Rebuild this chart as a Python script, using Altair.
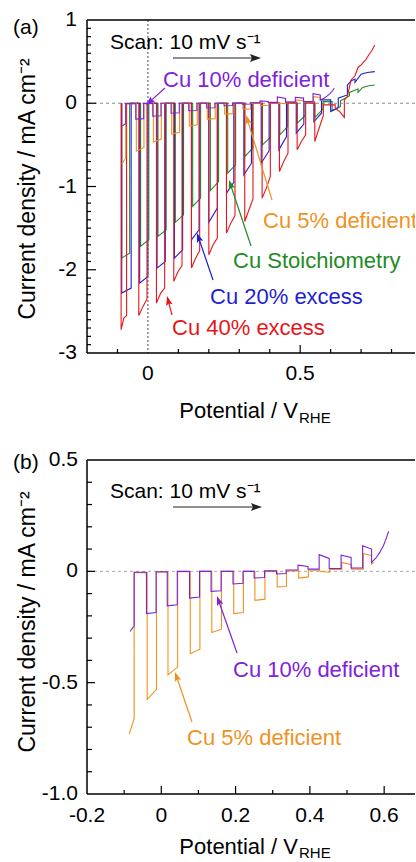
import math
import altair as alt
import pandas as pd

# ------------------------------------------------------------------ data
# Cu 10% deficient (purple) - chopped-light pulses (potential V_RHE, current mA cm-2)
PUR_ON = [-0.084, -0.040, 0.016, 0.076, 0.134, 0.193, 0.250, 0.310, 0.368, 0.425, 0.484, 0.542]
PUR_OFF = [-0.073, -0.014, 0.043, 0.103, 0.161, 0.220, 0.278, 0.336, 0.395, 0.452, 0.511, 0.566]
PUR_JON = [-0.27, -0.19, -0.155, -0.12, -0.09, -0.057, -0.03, -0.012, 0.028, 0.075, 0.072, 0.115]
PUR_JOFF = [-0.245, -0.185, -0.15, -0.115, -0.087, -0.054, -0.028, -0.010, 0.022, 0.058, 0.062, 0.10]
PUR_DARK = [-0.004, -0.002, 0.0, 0.0, 0.0, 0.0, 0.002, 0.006, 0.010, 0.013, 0.015]
PUR_TAIL_V = [0.566, 0.578, 0.588, 0.598, 0.606, 0.612]
PUR_TAIL_J = [0.04, 0.06, 0.085, 0.115, 0.15, 0.18]

# Cu 5% deficient (orange)
ORA_ON = [-0.086, -0.038, 0.018, 0.078, 0.136, 0.195, 0.252, 0.312, 0.370, 0.427, 0.486, 0.544]
ORA_OFF = [-0.073, -0.013, 0.044, 0.104, 0.162, 0.221, 0.279, 0.337, 0.396, 0.453, 0.512, 0.566]
ORA_JON = [-0.73, -0.575, -0.465, -0.37, -0.275, -0.19, -0.13, -0.07, -0.03, 0.0, 0.04, 0.08]
ORA_JOFF = [-0.66, -0.53, -0.43, -0.35, -0.26, -0.185, -0.125, -0.068, -0.025, -0.004, 0.03, 0.07]
ORA_DARK = [-0.006, -0.004, -0.002, 0.0, 0.0, 0.0, 0.0, 0.002, 0.005, 0.008, 0.010]
ORA_TAIL_V = [0.566, 0.572]
ORA_TAIL_J = [0.032, 0.04]

# Cu Stoichiometry (green)
GRN_ON = [-0.086, -0.024, 0.033, 0.090, 0.147, 0.205, 0.262, 0.318, 0.376, 0.433, 0.490, 0.548, 0.605]
GRN_OFF = [-0.060, 0.003, 0.060, 0.117, 0.173, 0.232, 0.288, 0.344, 0.402, 0.459, 0.516, 0.575, 0.632]
GRN_JON = [-1.86, -1.72, -1.60, -1.43, -1.24, -1.05, -0.84, -0.64, -0.50, -0.38, -0.24, -0.17, -0.09]
GRN_JOFF = [-1.80, -1.64, -1.52, -1.34, -1.14, -0.94, -0.74, -0.54, -0.41, -0.28, -0.15, -0.07, -0.04]
GRN_DARK = [0.0, 0.0, 0.0, 0.0, 0.0, 0.0, 0.0, 0.0, 0.0, 0.004, 0.01, 0.02]
GRN_TAIL_V = [0.632, 0.648, 0.662, 0.662, 0.675, 0.690, 0.690, 0.705, 0.725, 0.745]
GRN_TAIL_J = [0.03, 0.06, 0.09, 0.13, 0.15, 0.17, 0.13, 0.19, 0.21, 0.22]

# Cu 20% excess (blue)
BLU_ON = [-0.086, -0.027, 0.030, 0.087, 0.143, 0.200, 0.258, 0.315, 0.372, 0.430, 0.487, 0.545, 0.600]
BLU_OFF = [-0.055, 0.000, 0.057, 0.114, 0.168, 0.228, 0.282, 0.340, 0.398, 0.455, 0.512, 0.570, 0.625]
BLU_JON = [-2.28, -2.16, -1.98, -1.86, -1.64, -1.43, -1.08, -0.86, -0.72, -0.56, -0.36, -0.22, -0.10]
BLU_JOFF = [-2.22, -2.08, -1.90, -1.76, -1.52, -1.26, -0.95, -0.72, -0.57, -0.40, -0.25, -0.12, -0.05]
BLU_DARK = [0.0, 0.0, 0.0, 0.0, 0.0, 0.0, 0.0, 0.0, 0.004, 0.01, 0.02, 0.04]
BLU_TAIL_V = [0.625, 0.640, 0.655, 0.655, 0.668, 0.680, 0.680, 0.700, 0.720, 0.745]
BLU_TAIL_J = [0.06, 0.08, 0.10, 0.22, 0.27, 0.29, 0.25, 0.35, 0.37, 0.38]

# Cu 40% excess (red)
RED_ON = [-0.088, -0.030, 0.028, 0.085, 0.143, 0.200, 0.258, 0.318, 0.375, 0.432, 0.490, 0.548, 0.615]
RED_MID_V = [-0.079, -0.016, 0.042, 0.099, 0.157, 0.214, 0.272, 0.332, 0.389, 0.446, 0.504, 0.562, 0.630]
RED_OFF = [-0.070, -0.003, 0.055, 0.112, 0.170, 0.228, 0.286, 0.345, 0.402, 0.460, 0.518, 0.576, 0.645]
RED_JON = [-2.72, -2.55, -2.40, -2.14, -1.98, -1.82, -1.56, -1.42, -1.14, -0.82, -0.56, -0.46, -0.06]
RED_JMID = [-2.58, -2.44, -2.28, -2.02, -1.86, -1.70, -1.44, -1.28, -1.02, -0.70, -0.46, -0.30, -0.10]
RED_JOFF = [-2.55, -2.35, -2.22, -1.95, -1.77, -1.62, -1.35, -1.15, -0.88, -0.60, -0.38, -0.15, -0.17]
RED_DARK = [0.0, 0.0, 0.0, 0.0, 0.0, 0.0, 0.0, 0.0, 0.0, 0.0, 0.0, -0.02]
RED_TAIL_V = [0.645, 0.655, 0.662, 0.667, 0.680, 0.690, 0.700, 0.715, 0.725, 0.735, 0.745]
RED_TAIL_J = [0.04, 0.08, 0.20, 0.28, 0.33, 0.43, 0.46, 0.52, 0.58, 0.63, 0.70]

# axis tick labels
XLAB_A = [0, 0.5]
XLAB_A_TXT = ["0", "0.5"]
YLAB_A = [-3, -2, -1, 0, 1]
YLAB_A_TXT = ["-3", "-2", "-1", "0", "1"]
XLAB_B = [-0.2, 0, 0.2, 0.4, 0.6]
XLAB_B_TXT = ["-0.2", "0", "0.2", "0.4", "0.6"]
YLAB_B = [-1.0, -0.5, 0, 0.5]
YLAB_B_TXT = ["-1.0", "-0.5", "0", "0.5"]

# ------------------------------------------------------------------ style
FONT = "Liberation Sans"
C_PUR = "#7E22DC"
C_ORA = "#EF921F"
C_GRN = "#248A24"
C_BLU = "#1E1ED2"
C_RED = "#E5161B"
W = 328
HA = 333
HB = 334
ONE = pd.DataFrame({"z": [0]})


def build(on, off, jon, joff, dark, tail_v, tail_j, lead, mid_v=None, mid_j=None):
    rows = []

    def add(v, j):
        rows.append({"V": v, "j": j, "k": len(rows)})

    if lead:
        add(on[0], 0.0)
    for i in range(len(on)):
        add(on[i], jon[i])
        if mid_v is not None:
            add(mid_v[i], mid_j[i])
        add(off[i], joff[i])
        if i < len(on) - 1:
            add(off[i], dark[i])
            add(on[i + 1], dark[i])
    for v, j in zip(tail_v, tail_j):
        add(v, j)
    return pd.DataFrame(rows)


df_pur = build(PUR_ON, PUR_OFF, PUR_JON, PUR_JOFF, PUR_DARK, PUR_TAIL_V, PUR_TAIL_J, False)
df_ora = build(ORA_ON, ORA_OFF, ORA_JON, ORA_JOFF, ORA_DARK, ORA_TAIL_V, ORA_TAIL_J, False)
df_grn = build(GRN_ON, GRN_OFF, GRN_JON, GRN_JOFF, GRN_DARK, GRN_TAIL_V, GRN_TAIL_J, True)
df_blu = build(BLU_ON, BLU_OFF, BLU_JON, BLU_JOFF, BLU_DARK, BLU_TAIL_V, BLU_TAIL_J, True)
df_red = build(RED_ON, RED_OFF, RED_JON, RED_JOFF, RED_DARK, RED_TAIL_V, RED_TAIL_J, True,
               RED_MID_V, RED_JMID)

xsA = alt.Scale(domain=[-0.2, 0.877], nice=False, zero=False)
ysA = alt.Scale(domain=[-3, 1], nice=False, zero=False)
xsB = alt.Scale(domain=[-0.2, 0.683], nice=False, zero=False)
ysB = alt.Scale(domain=[-1, 0.5], nice=False, zero=False)


def curve(df, color, xs, ys):
    return alt.Chart(df).mark_line(color=color, strokeWidth=1.1).encode(
        x=alt.X("V:Q", scale=xs, axis=None),
        y=alt.Y("j:Q", scale=ys, axis=None),
        order=alt.Order("k:Q"),
    )


def zero_line(ys, color):
    return alt.Chart(pd.DataFrame({"j": [0.0]})).mark_rule(
        color=color, strokeDash=[3, 3], strokeWidth=1).encode(
        y=alt.Y("j:Q", scale=ys, axis=None))


def xticks(vals, xs, H, L):
    return alt.Chart(pd.DataFrame({"V": vals})).mark_rule(color="black", strokeWidth=1.2).encode(
        x=alt.X("V:Q", scale=xs, axis=None), y=alt.value(H), y2=alt.value(H - L))


def yticks(vals, ys, L):
    return alt.Chart(pd.DataFrame({"j": vals})).mark_rule(color="black", strokeWidth=1.2).encode(
        y=alt.Y("j:Q", scale=ys, axis=None), x=alt.value(0), x2=alt.value(L))


def xlabels(vals, texts, xs, ypos):
    return alt.Chart(pd.DataFrame({"V": vals, "t": texts})).mark_text(
        font=FONT, fontSize=21, color="black", align="center", baseline="top").encode(
        x=alt.X("V:Q", scale=xs, axis=None), y=alt.value(ypos), text="t:N")


def ylabels(vals, texts, ys, xpos):
    return alt.Chart(pd.DataFrame({"j": vals, "t": texts})).mark_text(
        font=FONT, fontSize=21, color="black", align="right", baseline="middle").encode(
        y=alt.Y("j:Q", scale=ys, axis=None), x=alt.value(xpos), text="t:N")


def frame(H):
    left = alt.Chart(ONE).mark_rule(color="black", strokeWidth=1.5).encode(
        x=alt.value(0), y=alt.value(0), y2=alt.value(H))
    bottom = alt.Chart(ONE).mark_rule(color="black", strokeWidth=1.5).encode(
        x=alt.value(0), x2=alt.value(W), y=alt.value(H))
    top = alt.Chart(ONE).mark_rule(color="black", strokeWidth=1.5).encode(
        x=alt.value(0), x2=alt.value(W), y=alt.value(0))
    return [left, bottom, top]


def txt(s, x, y, color="black", size=21, align="left", baseline="alphabetic", angle=0, clip=False):
    return alt.Chart(ONE).mark_text(text=s, font=FONT, fontSize=size, color=color, align=align,
                                    baseline=baseline, angle=angle, clip=clip).encode(
        x=alt.value(x), y=alt.value(y))


HEAD = "M0,-1L0.6,0.7L0,0.4L-0.6,0.7Z"


def arrow(x1, y1, x2, y2, color, s=5.5, width=1.2):
    dx, dy = x2 - x1, y2 - y1
    L = math.hypot(dx, dy)
    ux, uy = dx / L, dy / L
    cx, cy = x2 - ux * s, y2 - uy * s
    ang = math.degrees(math.atan2(dx, -dy)) % 360
    shaft = alt.Chart(ONE).mark_rule(color=color, strokeWidth=width).encode(
        x=alt.value(x1), y=alt.value(y1), x2=alt.value(cx), y2=alt.value(cy))
    head = alt.Chart(ONE).mark_point(shape=HEAD, filled=True, color=color, opacity=1,
                                     size=(2 * s) ** 2, angle=ang, strokeWidth=0).encode(
        x=alt.value(cx), y=alt.value(cy))
    return [shaft, head]


YTITLE = "Current density / mA cm\u207b\u00b2"
SCAN = "Scan: 10 mV s\u207b\u00b9"

# ------------------------------------------------------------------ panel (a)
minor_xa = [-0.1, 0.1, 0.2, 0.3, 0.4, 0.6, 0.7, 0.8]
minor_ya = [round(-3 + 0.1 * i, 1) for i in range(41) if i % 10]
layers_a = [
    alt.Chart(ONE).mark_rule(opacity=0, strokeWidth=0).encode(
        x=alt.value(-87), x2=alt.value(-87), y=alt.value(-20), y2=alt.value(-19)),
    zero_line(ysA, "#8c8c8c"),
    curve(df_grn, C_GRN, xsA, ysA),
    curve(df_blu, C_BLU, xsA, ysA),
    curve(df_red, C_RED, xsA, ysA),
    curve(df_ora, C_ORA, xsA, ysA),
    curve(df_pur, C_PUR, xsA, ysA),
    alt.Chart(pd.DataFrame({"V": [0.0]})).mark_rule(color="#5a5a5a", strokeDash=[2, 2],
                                                    strokeWidth=1.1).encode(
        x=alt.X("V:Q", scale=xsA, axis=None)),
    xticks([0.5], xsA, HA, 8),
    xticks(minor_xa, xsA, HA, 4),
    yticks([-2, -1, 0], ysA, 9),
    yticks(minor_ya, ysA, 4),
    xlabels(XLAB_A, XLAB_A_TXT, xsA, HA + 10),
    ylabels(YLAB_A, YLAB_A_TXT, ysA, -10),
    txt("(a)", -74, 14),
    txt(YTITLE, -59, 169, size=23, align="center", baseline="middle", angle=270),
    txt("Potential / V", 211, 398, size=22, align="right"),
    txt("RHE", 212, 403, size=15),
    txt(SCAN, 23, 29, size=21),
    txt("Cu 10% deficient", 76, 67, C_PUR, 22),
    txt("Cu 5% deficient", 176, 208, C_ORA, 22, clip=True),
    txt("Cu Stoichiometry", 146, 248, C_GRN, 22),
    txt("Cu 20% excess", 123, 284, C_BLU, 22),
    txt("Cu 40% excess", 85, 315, C_RED, 22),
]
layers_a += frame(HA)
layers_a += arrow(86, 38, 174, 38, "#222222", s=6.5)
layers_a += arrow(78, 68, 59, 85, C_PUR)
layers_a += arrow(185, 180, 159, 95, C_ORA)
layers_a += arrow(164, 226, 142, 160, C_GRN)
layers_a += arrow(126, 260, 110, 213, C_BLU)
layers_a += arrow(85, 295, 80, 276, C_RED)
panel_a = alt.layer(*layers_a).properties(width=W, height=HA)

# ------------------------------------------------------------------ panel (b)
minor_xb = [-0.1, 0.1, 0.3, 0.5]
minor_yb = [round(-1 + 0.1 * i, 1) for i in range(16) if i % 5]
layers_b = [
    zero_line(ysB, "#a8a8a8"),
    curve(df_ora, C_ORA, xsB, ysB),
    curve(df_pur, C_PUR, xsB, ysB),
    xticks([0, 0.2, 0.4, 0.6], xsB, HB, 8),
    xticks(minor_xb, xsB, HB, 4),
    yticks([-0.5, 0], ysB, 8),
    yticks(minor_yb, ysB, 5),
    xlabels(XLAB_B, XLAB_B_TXT, xsB, HB + 11),
    ylabels(YLAB_B, YLAB_B_TXT, ysB, -9),
    txt("(b)", -74, 9),
    txt(YTITLE, -59, 162, size=23, align="center", baseline="middle", angle=270),
    txt("Potential / V", 211, 394, size=22, align="right"),
    txt("RHE", 212, 398, size=15),
    txt(SCAN, 23, 38, size=21),
    txt("Cu 10% deficient", 146, 217, C_PUR, 22),
    txt("Cu 5% deficient", 100, 285, C_ORA, 22),
]
layers_b += frame(HB)
layers_b += arrow(86, 47, 175, 47, "#222222", s=6.5)
layers_b += arrow(150, 193, 130, 136, C_PUR)
layers_b += arrow(105, 262, 88, 212, C_ORA)
panel_b = alt.layer(*layers_b).properties(width=W, height=HB)

chart = alt.vconcat(panel_a, panel_b, spacing=107, bounds="flush").properties(
    padding=0, background="white"
).configure_view(stroke=None)

chart.save("out.html", embed_options={"renderer": "svg", "actions": False})
